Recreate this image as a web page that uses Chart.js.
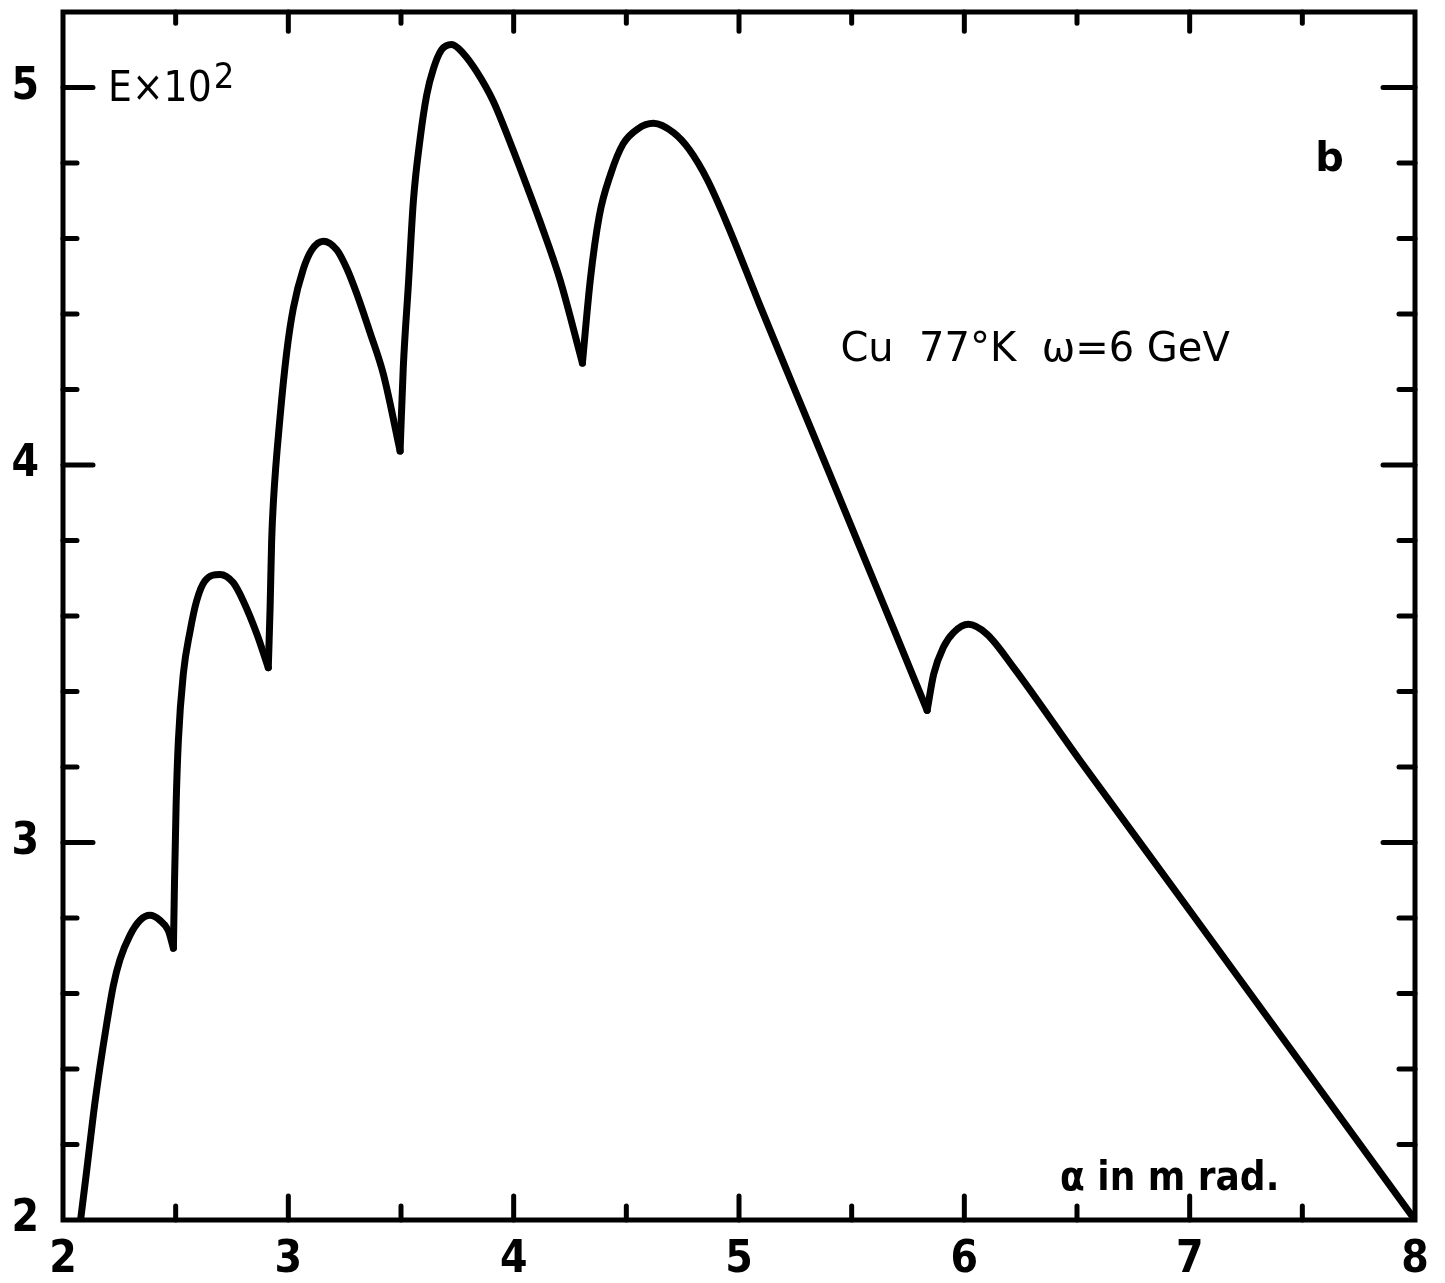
<!DOCTYPE html>
<html>
<head>
<meta charset="utf-8">
<script src="https://cdn.jsdelivr.net/npm/chart.js@4/dist/chart.umd.min.js"></script>
<style>
  html, body { margin: 0; padding: 0; background: #fff; }
  #wrap { width: 1445px; height: 1283px; position: relative; }
</style>
</head>
<body>
<div id="wrap"><canvas id="chart"></canvas></div>
<script>
// alpha in mrad (x) and E x 10^2 (y)
const alphaValues = [
  2.078, 2.105, 2.135, 2.164, 2.194, 2.223, 2.253, 2.297, 2.342, 2.386, 2.43, 2.467, 2.49,
  2.495, 2.502, 2.512, 2.534, 2.564, 2.593, 2.63, 2.697, 2.756, 2.80, 2.86, 2.911,
  2.919, 2.926, 2.934, 2.963, 2.993, 3.022, 3.067, 3.104, 3.155, 3.215, 3.26, 3.303, 3.363, 3.422, 3.496,
  3.51, 3.533, 3.555, 3.585, 3.614, 3.644, 3.68, 3.725, 3.777, 3.836, 3.91, 3.984, 4.058, 4.117, 4.206, 4.305,
  4.34, 4.38, 4.43, 4.485, 4.55, 4.62, 4.71, 4.78, 4.86, 4.95, 5.09, 5.24, 5.40, 5.54, 5.68, 5.835,
  5.864, 5.907, 5.952, 6.018, 6.10, 6.218, 6.51, 7.00, 8.00
];
const energyValues = [
  2.00, 2.13, 2.28, 2.405, 2.52, 2.62, 2.69, 2.754, 2.794, 2.807, 2.794, 2.767, 2.72,
  2.90, 3.10, 3.27, 3.447, 3.56, 3.64, 3.693, 3.71, 3.688, 3.64, 3.553, 3.463,
  3.62, 3.80, 3.905, 4.125, 4.30, 4.415, 4.52, 4.57, 4.593, 4.57, 4.52, 4.455, 4.35, 4.24, 4.037,
  4.257, 4.48, 4.70, 4.865, 4.98, 5.05, 5.10, 5.114, 5.09, 5.042, 4.963, 4.855, 4.74, 4.645, 4.49, 4.27,
  4.49, 4.66, 4.77, 4.85, 4.89, 4.905, 4.88, 4.835, 4.755, 4.635, 4.427, 4.21, 3.98, 3.777, 3.575, 3.35,
  3.446, 3.517, 3.556, 3.578, 3.552, 3.464, 3.22, 2.82, 2.00
];
// the sharp minima (cusps) where one smooth lobe ends and the next starts
const cuspAlphas = [2.49, 2.911, 3.496, 4.305, 5.835];

const X_MIN = 2, X_MAX = 8, X_STEP = 0.5;
const Y_MIN = 2, Y_MAX = 5.2, Y_STEP = 0.2;

const LABEL_FONT = '"Liberation Sans Narrow", "DejaVu Sans Condensed", "DejaVu Sans", sans-serif';

function isWhole(v) {
  return Math.abs(v - Math.round(v)) < 1e-6;
}

// split the curve into lobes so each cusp stays sharp
function buildLobes() {
  const lobes = [];
  let current = [];
  alphaValues.forEach((a, i) => {
    const p = { x: a, y: energyValues[i] };
    current.push(p);
    if (cuspAlphas.includes(a)) {
      lobes.push(current);
      current = [p];
    }
  });
  lobes.push(current);
  return lobes.map((pts) => ({
    data: pts,
    showLine: true,
    borderColor: "#000",
    borderWidth: 7,
    borderCapStyle: "round",
    borderJoinStyle: "round",
    cubicInterpolationMode: "monotone",
    pointRadius: 0,
    fill: false,
  }));
}

// frame with inward ticks on all four sides
const framePlugin = {
  id: "frame",
  afterDatasetsDraw(chart) {
    const { ctx, chartArea: a, scales } = chart;
    ctx.save();
    ctx.strokeStyle = "#000";
    ctx.lineCap = "round";
    ctx.lineWidth = 5;
    ctx.strokeRect(a.left, a.top, a.right - a.left, a.bottom - a.top);

    scales.x.ticks.forEach((t) => {
      const px = scales.x.getPixelForValue(t.value);
      if (px <= a.left + 2 || px >= a.right - 2) return;
      const len = isWhole(t.value) ? 24 : 14;
      ctx.beginPath();
      ctx.moveTo(px, a.bottom);
      ctx.lineTo(px, a.bottom - len);
      ctx.moveTo(px, a.top);
      ctx.lineTo(px, a.top + len * 0.8);
      ctx.stroke();
    });
    scales.y.ticks.forEach((t) => {
      const py = scales.y.getPixelForValue(t.value);
      if (py <= a.top + 2 || py >= a.bottom - 2) return;
      const len = isWhole(t.value) ? 30 : 14;
      ctx.beginPath();
      ctx.moveTo(a.left, py);
      ctx.lineTo(a.left + len, py);
      ctx.moveTo(a.right, py);
      ctx.lineTo(a.right - len - 2, py);
      ctx.stroke();
    });
    ctx.restore();
  },
};

// text written inside the plot, anchored to data coordinates
const notesPlugin = {
  id: "notes",
  afterDraw(chart) {
    const { ctx, scales } = chart;
    const px = (v) => scales.x.getPixelForValue(v);
    const py = (v) => scales.y.getPixelForValue(v);
    ctx.save();
    ctx.fillStyle = "#000";
    ctx.textBaseline = "alphabetic";
    ctx.textAlign = "left";

    ctx.font = '42px "DejaVu Sans Condensed", "DejaVu Sans", sans-serif';
    ctx.fillText("E\u00d710", px(2.2), py(4.963));
    const w = ctx.measureText("E\u00d710").width;
    ctx.font = '36px "DejaVu Sans Condensed", "DejaVu Sans", sans-serif';
    ctx.fillText("2", px(2.2) + w + 2, py(5.0));

    ctx.font = 'bold 40px "DejaVu Sans", sans-serif';
    ctx.fillText("b", px(7.557), py(4.778));

    ctx.font = '40px "DejaVu Sans", sans-serif';
    ctx.fillText("Cu  77\u00b0K  \u03c9=6 GeV", px(5.45), py(4.275));

    ctx.font = 'bold 40px "DejaVu Sans Condensed", "DejaVu Sans", sans-serif';
    ctx.fillText("\u03b1 in m rad.", px(6.425), py(2.079));
    ctx.restore();
  },
};

new Chart(document.getElementById("chart"), {
  type: "scatter",
  data: { datasets: buildLobes() },
  options: {
    responsive: true,
    maintainAspectRatio: false,
    animation: false,
    layout: { padding: { top: 12, right: 30, left: 0, bottom: 0 } },
    plugins: {
      legend: { display: false },
      tooltip: { enabled: false },
    },
    scales: {
      x: {
        type: "linear",
        min: X_MIN,
        max: X_MAX,
        grid: { display: false, drawTicks: false },
        border: { display: false },
        afterFit: (s) => {
          s.height = 63;
          s.paddingLeft = 0;
          s.paddingRight = 0;
        },
        ticks: {
          stepSize: X_STEP,
          autoSkip: false,
          maxRotation: 0,
          padding: 14,
          color: "#000",
          font: { family: LABEL_FONT, size: 44, weight: "bold" },
          callback: (v) => (isWhole(v) ? String(Math.round(v)) : ""),
        },
      },
      y: {
        type: "linear",
        min: Y_MIN,
        max: Y_MAX,
        grid: { display: false, drawTicks: false },
        border: { display: false },
        afterFit: (s) => {
          s.width = 63;
          s.paddingTop = 0;
          s.paddingBottom = 0;
        },
        ticks: {
          stepSize: Y_STEP,
          autoSkip: false,
          padding: 24,
          color: "#000",
          font: { family: LABEL_FONT, size: 44, weight: "bold" },
          callback: (v) => (isWhole(v) ? String(Math.round(v)) : ""),
        },
      },
    },
  },
  plugins: [framePlugin, notesPlugin],
});
</script>
</body>
</html>
